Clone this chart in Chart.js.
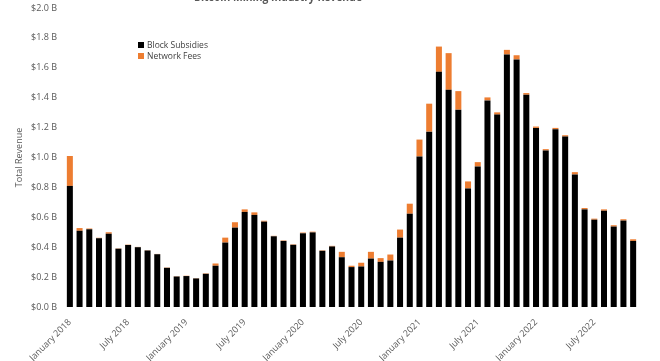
<!DOCTYPE html>
<html>
<head>
<meta charset="utf-8">
<script src="https://cdn.jsdelivr.net/npm/chart.js@4"></script>
<style>
  body { margin: 0; background: #fff; }
  #wrap { position: relative; width: 660px; height: 361px; overflow: hidden; }
  #legend { position: absolute; left: 138px; top: 39px; font: 8.5px "Open Sans", sans-serif; color: #404040; }
  #legend div { height: 11px; line-height: 11px; white-space: nowrap; }
  #legend span { display: inline-block; width: 6px; height: 6px; margin-right: 3px; vertical-align: 0px; }
</style>
</head>
<body>
<div id="wrap">
  <canvas id="myChart" width="660" height="361"></canvas>
  <div id="legend"></div>
</div>
<script>
const months = ['January', 'February', 'March', 'April', 'May', 'June', 'July',
  'August', 'September', 'October', 'November', 'December'];
const years = [2018, 2019, 2020, 2021, 2022];

// USD billions per month, Jan 2018 - Nov 2022
const subsidies = [0.81, 0.51, 0.52, 0.46, 0.49, 0.39, 0.415, 0.40, 0.378, 0.353, 0.262, 0.204,
  0.207, 0.191, 0.222, 0.276, 0.431, 0.531, 0.636, 0.616, 0.571, 0.473, 0.442, 0.416,
  0.493, 0.499, 0.376, 0.405, 0.333, 0.267, 0.271, 0.324, 0.302, 0.311, 0.464, 0.624,
  1.007, 1.173, 1.573, 1.453, 1.32, 0.793, 0.94, 1.382, 1.287, 1.689, 1.656, 1.42,
  1.198, 1.047, 1.189, 1.14, 0.887, 0.653, 0.584, 0.644, 0.538, 0.578, 0.442];
const fees = [0.20, 0.018, 0.005, 0.003, 0.01, 0.002, 0.002, 0.002, 0.002, 0.002, 0.002, 0.002,
  0.002, 0.002, 0.003, 0.015, 0.033, 0.036, 0.017, 0.017, 0.006, 0.003, 0.003, 0.003,
  0.005, 0.005, 0.003, 0.004, 0.036, 0.009, 0.025, 0.045, 0.025, 0.04, 0.054, 0.067,
  0.113, 0.187, 0.169, 0.245, 0.124, 0.047, 0.029, 0.02, 0.015, 0.031, 0.028, 0.011,
  0.009, 0.009, 0.009, 0.009, 0.015, 0.009, 0.007, 0.009, 0.009, 0.009, 0.011];

const titleText = 'Bitcoin Mining Industry Revenue';
const seriesNames = ['Block Subsidies', 'Network Fees'];
const seriesColors = ['#000000', '#ED7D31'];

let labels = [];
for (let y of years) {
  for (let m of months) {
    if (labels.length < subsidies.length) labels.push(m + ' ' + y);
  }
}

// title sits mostly above the top edge, like the cropped original
const topTitle = {
  id: 'topTitle',
  afterDraw(chart) {
    const ctx = chart.ctx;
    ctx.save();
    ctx.font = 'bold 12px "Open Sans", sans-serif';
    ctx.fillStyle = '#595959';
    ctx.textAlign = 'center';
    ctx.textBaseline = 'alphabetic';
    ctx.fillText(titleText, 278, 1, 168);
    ctx.restore();
  }
};

const tickFont = { family: '"Open Sans", sans-serif', size: 9 };

var chartContext = document.getElementById('myChart').getContext('2d');
var myChart = new Chart(chartContext, {
  type: 'bar',
  data: {
    labels: labels,
    datasets: [{
      label: seriesNames[0],
      data: subsidies,
      backgroundColor: seriesColors[0]
    }, {
      label: seriesNames[1],
      data: fees,
      backgroundColor: seriesColors[1]
    }]
  },
  options: {
    responsive: false,
    animation: false,
    layout: { padding: { top: 8, right: 22, left: 10, bottom: 0 } },
    datasets: { bar: { barPercentage: 0.62, categoryPercentage: 1.0 } },
    plugins: {
      legend: { display: false },
      tooltip: { enabled: false }
    },
    scales: {
      x: {
        stacked: true,
        grid: { display: false },
        border: { display: false },
        afterFit: scale => { scale.height = 54; },
        ticks: {
          autoSkip: false,
          minRotation: 45,
          maxRotation: 45,
          padding: 2,
          color: '#595959',
          font: tickFont,
          callback: (v, i) => (i % 6 === 0 ? labels[i] : null)
        }
      },
      y: {
        stacked: true,
        min: 0,
        max: 2.0,
        grid: { display: false },
        border: { display: false },
        afterFit: scale => { scale.width = 55; },
        title: { display: true, text: 'Total Revenue', color: '#595959', font: tickFont, padding: { top: 4, bottom: 4 } },
        ticks: {
          stepSize: 0.2,
          color: '#595959',
          font: tickFont,
          padding: 0,
          callback: v => '$' + v.toFixed(1) + ' B'
        }
      }
    }
  },
  plugins: [topTitle]
});

// legend built from the dataset labels
const legend = document.getElementById('legend');
myChart.data.datasets.forEach(ds => {
  const row = document.createElement('div');
  const sw = document.createElement('span');
  sw.style.background = ds.backgroundColor;
  row.appendChild(sw);
  row.appendChild(document.createTextNode(ds.label));
  legend.appendChild(row);
});
</script>
</body>
</html>
